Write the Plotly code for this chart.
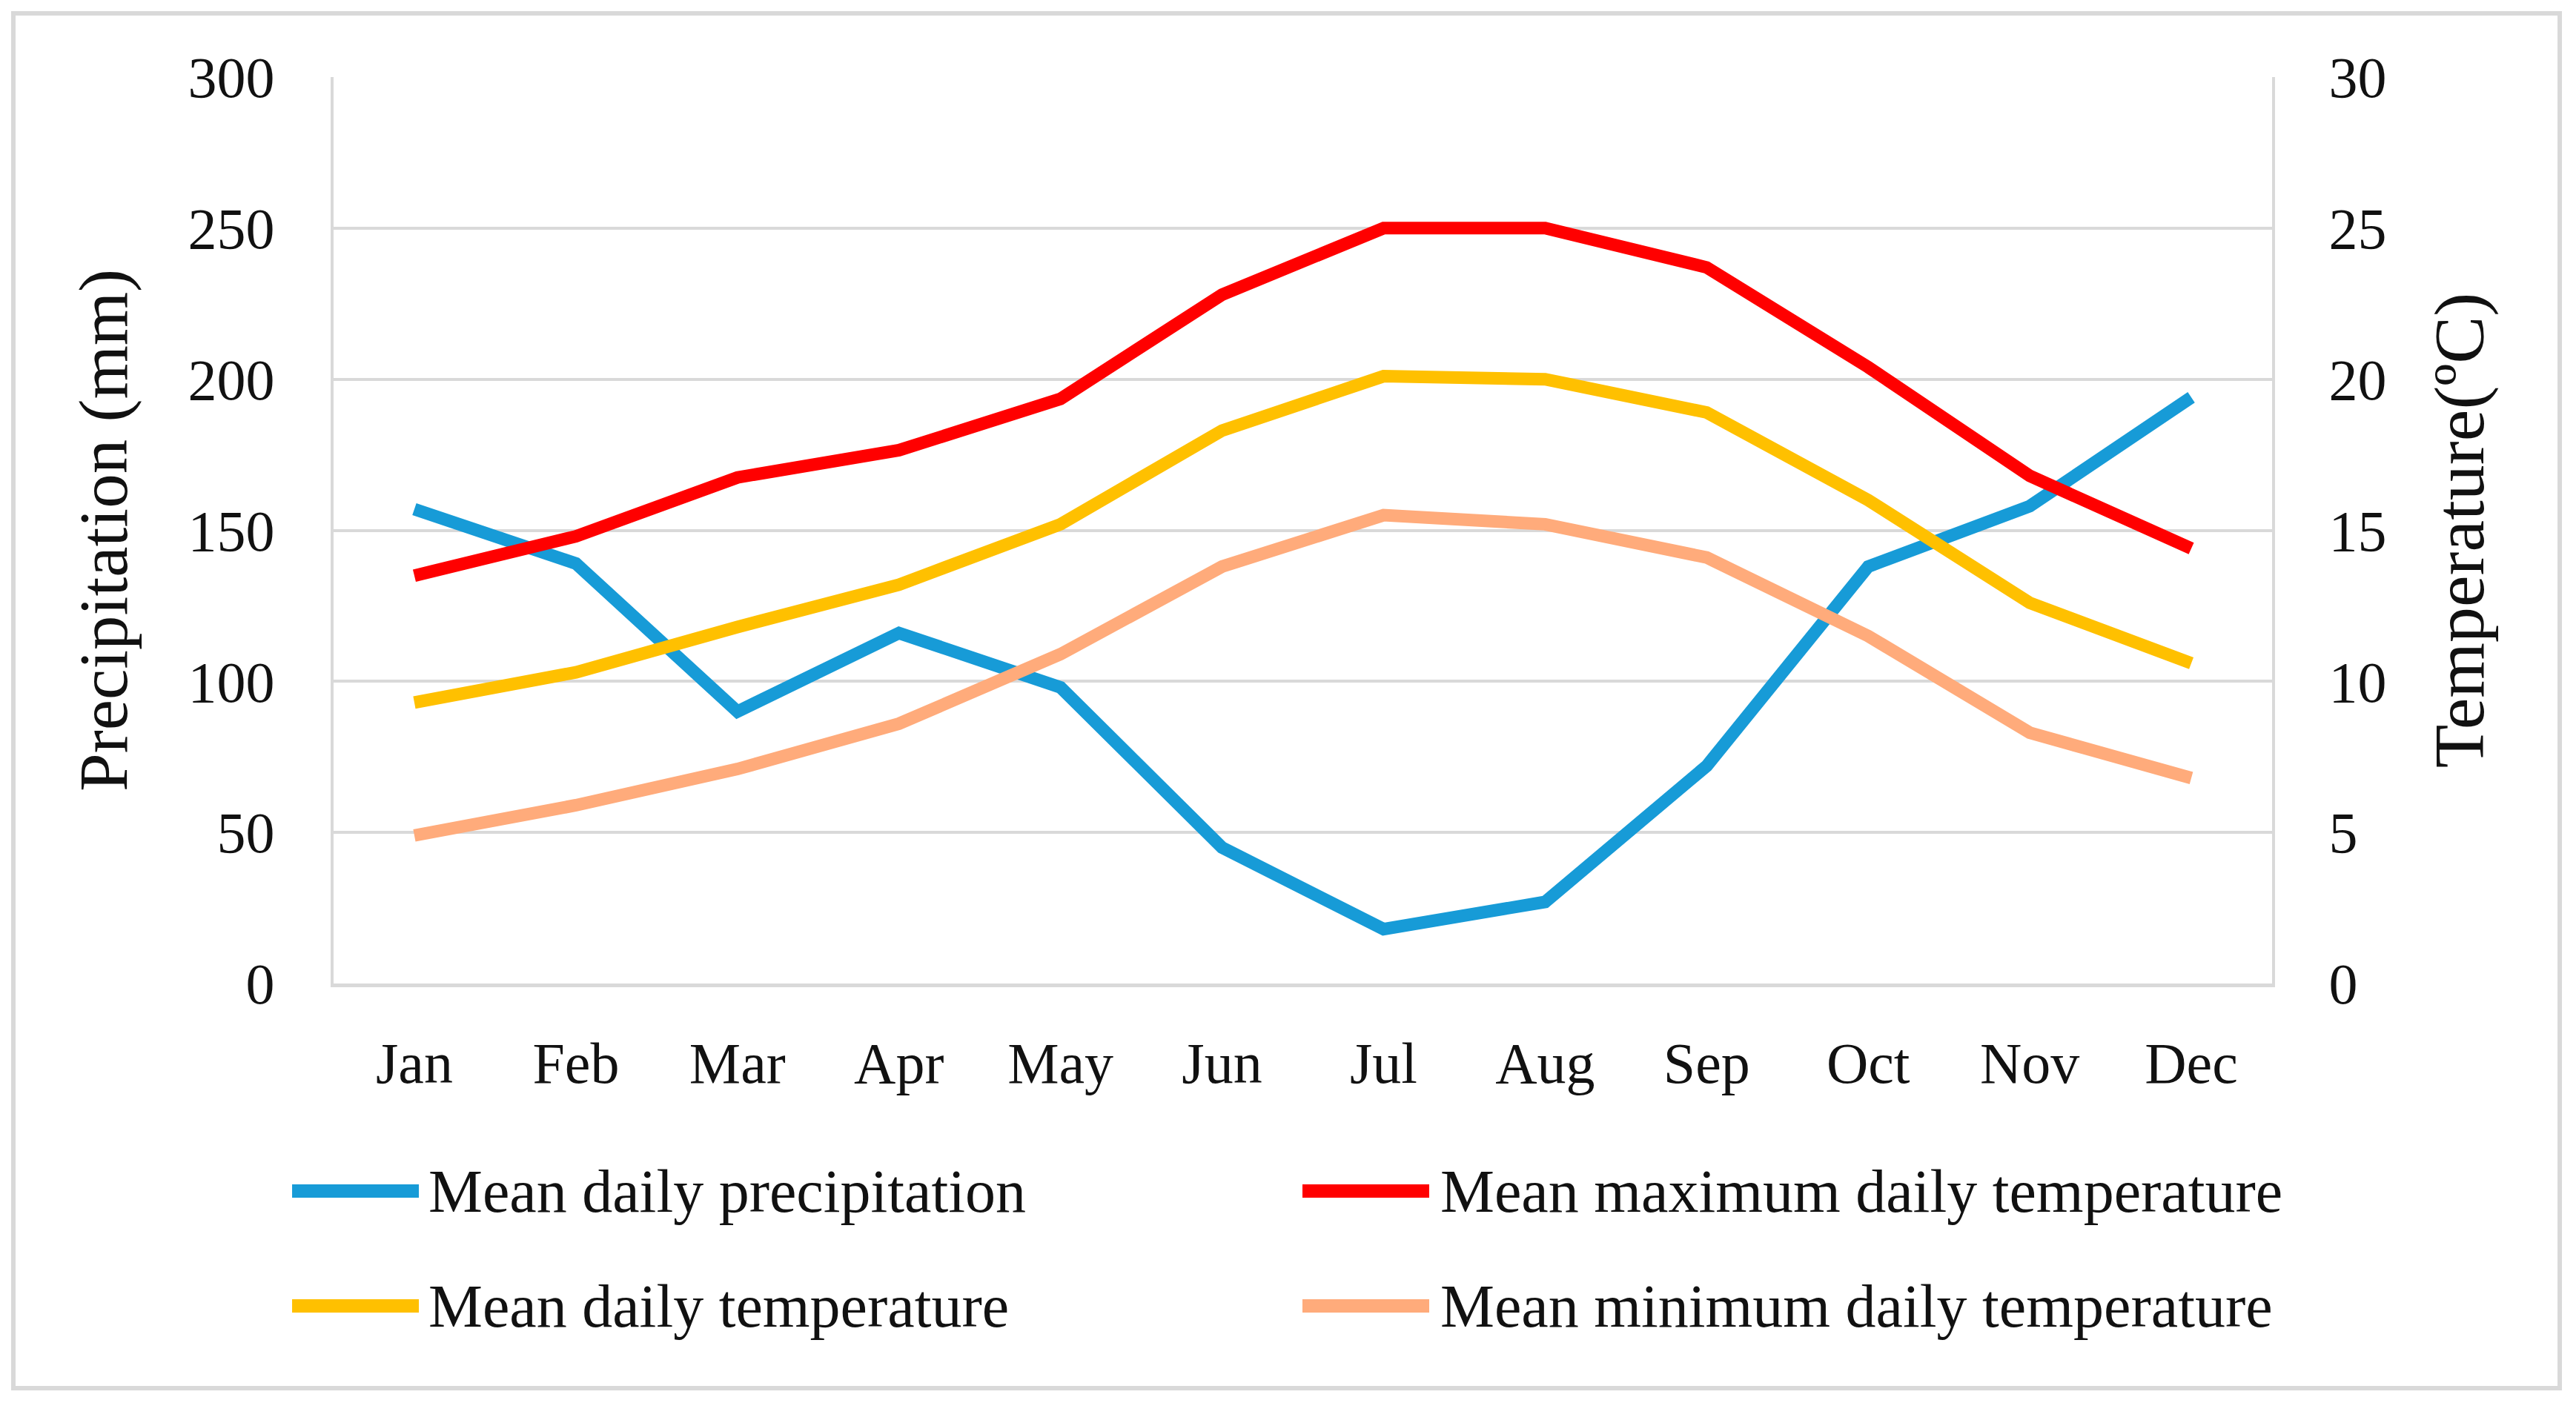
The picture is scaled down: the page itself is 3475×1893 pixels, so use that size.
import plotly.graph_objects as go

# Monthly climate data
months = ["Jan", "Feb", "Mar", "Apr", "May", "Jun",
          "Jul", "Aug", "Sep", "Oct", "Nov", "Dec"]
precipitation = [157, 139, 90, 116, 98, 45, 18, 27, 72, 138, 158, 194]
temp_max = [13.5, 14.8, 16.75, 17.65, 19.35, 22.8, 25.0, 25.0, 23.7, 20.4, 16.8, 14.4]
temp_mean = [9.3, 10.3, 11.8, 13.2, 15.2, 18.3, 20.1, 20.0, 18.9, 16.0, 12.6, 10.6]
temp_min = [4.9, 5.9, 7.1, 8.6, 10.9, 13.8, 15.5, 15.2, 14.1, 11.5, 8.3, 6.8]

names = ["Mean daily precipitation", "Mean maximum daily temperature",
         "Mean daily temperature", "Mean minimum daily temperature"]
colors = ["#179BD7", "#FF0000", "#FFC000", "#FFAB7B"]

FONT = "Liberation Serif"
GRID = "#D9D9D9"
LW = 17

fig = go.Figure()

# precipitation on the left axis, temperatures on the right axis
fig.add_trace(go.Scatter(x=months, y=precipitation, name=names[0], mode="lines",
                         line=dict(color=colors[0], width=LW), yaxis="y"))
for series, name, col in zip([temp_max, temp_mean, temp_min], names[1:], colors[1:]):
    fig.add_trace(go.Scatter(x=months, y=series, name=name, mode="lines",
                             line=dict(color=col, width=LW), yaxis="y2"))

fig.update_layout(
    width=3475,
    height=1893,
    margin=dict(l=450, r=410, t=104, b=566),
    paper_bgcolor="white",
    plot_bgcolor="white",
    showlegend=False,
    font=dict(family=FONT, color="#111111", size=78),
    xaxis=dict(
        type="category",
        range=[-0.5, 11.5],
        showgrid=False,
        showline=True, linecolor=GRID, linewidth=5,
        ticks="", ticklabelstandoff=35,
        tickfont=dict(size=78),
        zeroline=False,
    ),
    yaxis=dict(
        range=[0, 300], dtick=50,
        showgrid=True, gridcolor=GRID, gridwidth=4,
        showline=True, linecolor=GRID, linewidth=4,
        zeroline=False, ticks="", ticklabelstandoff=60,
        tickfont=dict(size=78),
        title=dict(text="Precipitation (mm)", font=dict(size=93), standoff=52),
    ),
    yaxis2=dict(
        range=[0, 30], dtick=5,
        overlaying="y", side="right",
        showgrid=False,
        showline=True, linecolor=GRID, linewidth=4,
        zeroline=False, ticks="", ticklabelstandoff=57,
        tickfont=dict(size=78),
        title=dict(text="Temperature(ºC)", font=dict(size=96), standoff=65),
    ),
)

# outer frame of the figure
fig.add_shape(type="rect", xref="paper", yref="paper",
              x0=-0.1652, x1=1.1484, y0=-0.4464, y1=1.0703,
              line=dict(color=GRID, width=6), fillcolor="rgba(0,0,0,0)", layer="below")

# hand-placed legend (2 x 2 grid) with long line samples
legend_x = [(-0.0214, 0.044, 0.0482), (0.4998, 0.5652, 0.5702),
            (-0.0214, 0.044, 0.0482), (0.4998, 0.5652, 0.5702)]
legend_y = [-0.229, -0.229, -0.3557, -0.3557]
for (x0, x1, xt), y, name, col in zip(legend_x, legend_y, names, colors):
    fig.add_shape(type="line", xref="paper", yref="paper",
                  x0=x0, x1=x1, y0=y, y1=y, line=dict(color=col, width=18))
    fig.add_annotation(text=name, xref="paper", yref="paper", x=xt, y=y,
                       xanchor="left", yanchor="middle", showarrow=False,
                       font=dict(size=82, family=FONT, color="#111111"))

# drop the default page margin so the figure sits at the window origin
fig.write_html("out.html", config={"displayModeBar": False},
               post_script="document.body.style.margin='0px';")
